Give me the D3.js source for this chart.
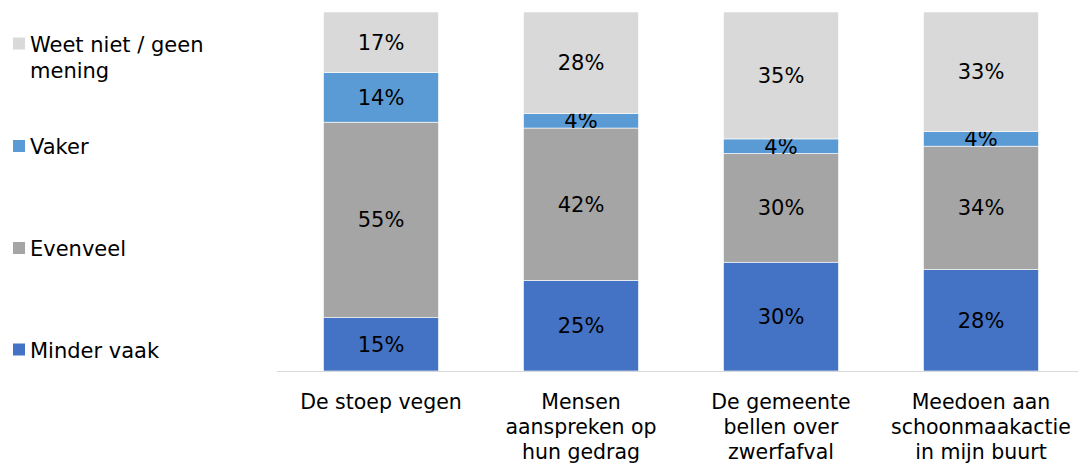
<!DOCTYPE html>
<html>
<head>
<meta charset="utf-8">
<script src="https://d3js.org/d3.v7.min.js"></script>
<style>
  body { margin: 0; background: #fff; }
  text { font-family: "DejaVu Sans", Verdana, sans-serif; fill: #000; }
</style>
</head>
<body>
<div id="viz"></div>
<script>
// categories (x axis), each label split into lines
const categories = ["De stoep vegen", "Mensen aanspreken op hun gedrag", "De gemeente bellen over zwerfafval", "Meedoen aan schoonmaakactie in mijn buurt"];
const categoryLines = [
  ["De stoep vegen"],
  ["Mensen", "aanspreken op", "hun gedrag"],
  ["De gemeente", "bellen over", "zwerfafval"],
  ["Meedoen aan", "schoonmaakactie", "in mijn buurt"]
];

// series, bottom to top
const seriesNames = ["Minder vaak", "Evenveel", "Vaker", "Weet niet / geen mening"];
const minderVaak = [15, 25, 30, 28];
const evenveel   = [55, 42, 30, 34];
const vaker      = [14, 4, 4, 4];
const weetNiet   = [17, 28, 35, 33];
const colors = ["#4472C4", "#A5A5A5", "#5B9BD5", "#D9D9D9"];

const width = 1078, height = 464;
const svg = d3.select("#viz").append("svg")
  .attr("width", width)
  .attr("height", height);

const rows = categories.map((c, i) => ({
  cat: c,
  "Minder vaak": minderVaak[i],
  "Evenveel": evenveel[i],
  "Vaker": vaker[i],
  "Weet niet / geen mening": weetNiet[i]
}));

const stack = d3.stack().keys(seriesNames).offset(d3.stackOffsetExpand);
const layers = stack(rows);

const x = d3.scaleBand().domain(categories).range([281, 1081])
  .paddingInner(0.425).paddingOuter(0.2125);
const y = d3.scaleLinear().domain([0, 1]).range([371, 12]);
const color = d3.scaleOrdinal().domain(seriesNames).range(colors);

// bars
const g = svg.append("g");
layers.forEach(layer => {
  g.selectAll(null)
    .data(layer)
    .join("rect")
    .attr("x", d => x(d.data.cat))
    .attr("width", x.bandwidth())
    .attr("y", d => y(d[1]))
    .attr("height", d => y(d[0]) - y(d[1]))
    .attr("fill", color(layer.key))
    .attr("stroke", "#fff")
    .attr("stroke-width", 0.6);

  g.selectAll(null)
    .data(layer)
    .join("text")
    .attr("x", d => x(d.data.cat) + x.bandwidth() / 2)
    .attr("y", d => (y(d[0]) + y(d[1])) / 2)
    .attr("dy", "0.36em")
    .attr("text-anchor", "middle")
    .style("font-size", "21px")
    .text(d => d.data[layer.key] + "%");
});

// axis line
svg.append("line")
  .attr("x1", 277).attr("x2", 1078)
  .attr("y1", 371.5).attr("y2", 371.5)
  .attr("stroke", "#d9d9d9")
  .attr("stroke-width", 1);

// category labels
categories.forEach((c, i) => {
  const t = svg.append("text")
    .attr("text-anchor", "middle")
    .style("font-size", "20.5px");
  categoryLines[i].forEach((line, j) => {
    t.append("tspan")
      .attr("x", x(c) + x.bandwidth() / 2)
      .attr("y", 409 + j * 25)
      .text(line);
  });
});

// legend (top to bottom)
const legendItems = [
  { name: "Weet niet / geen mening", lines: ["Weet niet / geen", "mening"], y: 43.5 },
  { name: "Vaker", lines: ["Vaker"], y: 146 },
  { name: "Evenveel", lines: ["Evenveel"], y: 248 },
  { name: "Minder vaak", lines: ["Minder vaak"], y: 349.5 }
];
const legend = svg.append("g");
legendItems.forEach(item => {
  legend.append("rect")
    .attr("x", 13).attr("y", item.y - 6)
    .attr("width", 12).attr("height", 12)
    .attr("fill", color(item.name));
  const t = legend.append("text").style("font-size", "21px");
  item.lines.forEach((line, j) => {
    t.append("tspan")
      .attr("x", 30)
      .attr("y", item.y + 8 + j * 26)
      .text(line);
  });
});
</script>
</body>
</html>
